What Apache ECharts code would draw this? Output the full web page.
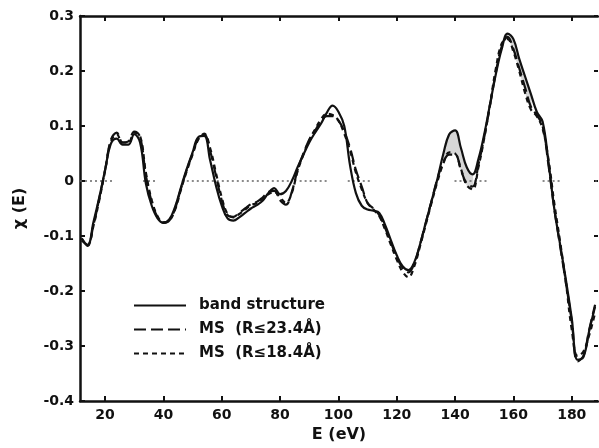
<!DOCTYPE html>
<html>
<head>
<meta charset="utf-8">
<script src="https://cdn.jsdelivr.net/npm/echarts@6/dist/echarts.min.js"></script>
<style>
  html, body { margin: 0; padding: 0; background: #fff; }
  #chart { width: 599px; height: 448px; }
</style>
</head>
<body>
<div id="chart"></div>
<script>
// energies (eV), 2 eV grid
const energy = [];
for (let e = 12; e <= 188; e += 2) energy.push(e);

// band structure (solid)
const bandStructure = [
  -0.108, -0.116, -0.075, -0.030, 0.020, 0.068, 0.077, 0.066, 0.066, 0.085,
  0.070, -0.005, -0.045, -0.068, -0.076, -0.070, -0.047, -0.012, 0.022, 0.052,
  0.080, 0.082, 0.038, -0.008, -0.045, -0.068, -0.072, -0.066, -0.058, -0.050,
  -0.044, -0.036, -0.022, -0.013, -0.024, -0.018, 0.000, 0.025, 0.048, 0.070,
  0.088, 0.104, 0.124, 0.137, 0.126, 0.100, 0.028, -0.022, -0.045, -0.052,
  -0.054, -0.058, -0.080, -0.108, -0.135, -0.155, -0.162, -0.148, -0.115, -0.075,
  -0.035, 0.005, 0.050, 0.085, 0.092, 0.060, 0.025, 0.012, 0.040, 0.085,
  0.140, 0.195, 0.240, 0.268, 0.258, 0.222, 0.190, 0.158, 0.126, 0.108,
  0.035, -0.050, -0.115, -0.180, -0.250, -0.325, -0.320, -0.272, -0.228
];

// MS (R <= 23.4 A) (dashed)
const ms234 = [
  -0.105, -0.118, -0.080, -0.032, 0.020, 0.075, 0.088, 0.070, 0.072, 0.090,
  0.080, 0.010, -0.038, -0.066, -0.076, -0.072, -0.050, -0.014, 0.020, 0.050,
  0.078, 0.085, 0.055, 0.010, -0.035, -0.062, -0.065, -0.058, -0.050, -0.042,
  -0.038, -0.030, -0.020, -0.018, -0.035, -0.043, -0.020, 0.020, 0.050, 0.075,
  0.092, 0.108, 0.118, 0.118, 0.110, 0.090, 0.060, 0.020, -0.010, -0.040,
  -0.050, -0.062, -0.085, -0.112, -0.138, -0.158, -0.166, -0.150, -0.115, -0.075,
  -0.035, 0.005, 0.035, 0.048, 0.048, 0.020, -0.005, -0.010, 0.030, 0.080,
  0.138, 0.198, 0.245, 0.262, 0.240, 0.205, 0.170, 0.135, 0.120, 0.100,
  0.030, -0.050, -0.118, -0.185, -0.255, -0.328, -0.318, -0.270, -0.225
];

// MS (R <= 18.4 A) (dotted)
const ms184 = [
  -0.104, -0.117, -0.082, -0.035, 0.018, 0.072, 0.085, 0.070, 0.070, 0.088,
  0.082, 0.015, -0.035, -0.064, -0.075, -0.072, -0.052, -0.016, 0.018, 0.048,
  0.076, 0.086, 0.060, 0.015, -0.030, -0.060, -0.066, -0.060, -0.052, -0.044,
  -0.040, -0.032, -0.024, -0.020, -0.030, -0.040, -0.022, 0.018, 0.048, 0.074,
  0.094, 0.112, 0.122, 0.120, 0.110, 0.086, 0.055, 0.015, -0.015, -0.040,
  -0.052, -0.064, -0.088, -0.116, -0.143, -0.165, -0.175, -0.155, -0.118, -0.078,
  -0.038, 0.000, 0.032, 0.052, 0.050, 0.022, -0.008, -0.015, 0.025, 0.078,
  0.140, 0.205, 0.250, 0.258, 0.235, 0.200, 0.160, 0.130, 0.118, 0.095,
  0.040, -0.040, -0.110, -0.185, -0.270, -0.318, -0.310, -0.280, -0.240
];

// shaded energy windows where band structure sits above the MS curves
const shadeRanges = [[136, 146], [156, 166]];

// pieces of the dotted zero line (eV)
const zeroSegments = [
  [11.4, 23.4], [33, 37.8], [46.3, 83.3], [86.7, 97],
  [103.2, 111.4], [139.8, 150.8], [170, 176.5], [188, 189]
];

const xTicks = [20, 40, 60, 80, 100, 120, 140, 160, 180];
const names = ['band structure', 'MS  (R\u226423.4\u00c5)', 'MS  (R\u226418.4\u00c5)'];

const pairs = arr => energy.map((e, i) => [e, arr[i]]);
const lower = energy.map((e, i) => Math.min(ms234[i], ms184[i]));

const chart = echarts.init(document.getElementById('chart'));
const axisFont = { fontFamily: 'DejaVu Sans', fontWeight: 'bold', fontSize: 14, color: '#111' };
const lineCol = '#111';

// grey patch between the solid curve and the lower MS curve
function renderShade(params, api) {
  const a = api.value(0), b = api.value(1);
  const top = [], bottom = [];
  energy.forEach((e, i) => {
    if (e < a || e > b) return;
    top.push(api.coord([e, bandStructure[i]]));
    bottom.unshift(api.coord([e, lower[i]]));
  });
  return {
    type: 'polygon',
    shape: { points: top.concat(bottom), smooth: 0.3 },
    style: { fill: '#d6d6d6', stroke: null }
  };
}

function renderZero(params, api) {
  const p0 = api.coord([api.value(0), 0]);
  const p1 = api.coord([api.value(1), 0]);
  return {
    type: 'line',
    shape: { x1: p0[0], y1: p0[1], x2: p1[0], y2: p1[1] },
    style: { stroke: '#666', lineWidth: 1.5, lineDash: [2, 3] }
  };
}

const option = {
  animation: false,
  backgroundColor: '#fff',
  grid: { left: 80, right: 1, top: 16, bottom: 42 },
  legend: {
    data: names,
    orient: 'vertical',
    left: 133,
    top: 298,
    padding: 0,
    itemWidth: 52,
    itemHeight: 14,
    itemGap: 9,
    itemStyle: { opacity: 0 },
    textStyle: { fontFamily: 'DejaVu Sans', fontWeight: 'bold', fontSize: 15, color: '#111', padding: [0, 0, 0, 8] }
  },
  xAxis: [
    {
      type: 'value', min: 11.4, max: 189, position: 'bottom',
      name: 'E (eV)', nameLocation: 'middle', nameGap: 26,
      nameTextStyle: { fontFamily: 'DejaVu Sans', fontWeight: 'bold', fontSize: 16, color: '#111' },
      axisLine: { onZero: false, lineStyle: { color: lineCol, width: 2.5 } },
      axisTick: { inside: true, length: 5, customValues: xTicks, lineStyle: { color: lineCol, width: 2 } },
      axisLabel: Object.assign({ margin: 7, customValues: xTicks }, axisFont),
      splitLine: { show: false }
    },
    {
      type: 'value', min: 11.4, max: 189, position: 'top',
      axisLine: { onZero: false, lineStyle: { color: lineCol, width: 2.5 } },
      axisTick: { inside: true, length: 5, customValues: xTicks, lineStyle: { color: lineCol, width: 2 } },
      axisLabel: { show: false },
      splitLine: { show: false }
    }
  ],
  yAxis: [
    {
      type: 'value', min: -0.4, max: 0.3, interval: 0.1, position: 'left',
      name: '\u03c7 (E)', nameLocation: 'middle', nameGap: 52,
      nameTextStyle: { fontFamily: 'DejaVu Sans', fontWeight: 'bold', fontSize: 16, color: '#111' },
      axisLine: { onZero: false, lineStyle: { color: lineCol, width: 2.5 } },
      axisTick: { inside: true, length: 5, lineStyle: { color: lineCol, width: 2 } },
      axisLabel: Object.assign({
        margin: 6,
        formatter: v => Math.abs(v) < 1e-9 ? '0' : v.toFixed(1)
      }, axisFont),
      splitLine: { show: false }
    },
    {
      type: 'value', min: -0.4, max: 0.3, interval: 0.1, position: 'right',
      axisLine: { show: false, onZero: false },
      axisTick: { inside: true, length: 4, lineStyle: { color: lineCol, width: 2 } },
      axisLabel: { show: false },
      splitLine: { show: false }
    }
  ],
  series: [
    {
      name: 'shade', type: 'custom', data: shadeRanges, renderItem: renderShade,
      silent: true, z: 1
    },
    {
      name: 'zero', type: 'custom', data: zeroSegments, renderItem: renderZero,
      silent: true, z: 2
    },
    {
      name: names[0], type: 'line', data: pairs(bandStructure), smooth: 0.4, symbol: 'none',
      lineStyle: { color: lineCol, width: 2.2 }, itemStyle: { color: lineCol }, z: 3
    },
    {
      name: names[1], type: 'line', data: pairs(ms234), smooth: 0.4, symbol: 'none',
      lineStyle: { color: lineCol, width: 2.2, type: [12, 5] }, itemStyle: { color: lineCol }, z: 3
    },
    {
      name: names[2], type: 'line', data: pairs(ms184), smooth: 0.4, symbol: 'none',
      lineStyle: { color: lineCol, width: 2.2, type: [5, 4] }, itemStyle: { color: lineCol }, z: 3
    }
  ]
};

chart.setOption(option);
</script>
</body>
</html>
